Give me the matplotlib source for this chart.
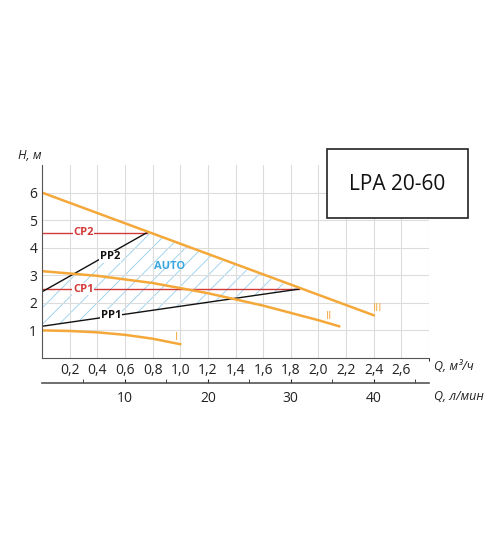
import matplotlib
matplotlib.use('Agg')
import matplotlib.pyplot as plt
import numpy as np
from matplotlib.patches import Polygon

plt.rcParams['font.family'] = ['Open Sans', 'DejaVu Sans']
plt.rcParams['hatch.linewidth'] = 0.6

ORANGE = '#f5a83a'
RED = '#d23a3a'
BLUE = '#3aa6dd'

# pump curves (Q m3/h, H m)
q3 = [0.0, 2.4]
h3 = [6.0, 1.55]
q2 = [0.0, 0.4, 0.8, 1.2, 1.6, 2.0, 2.15]
h2 = [3.15, 2.98, 2.72, 2.35, 1.9, 1.37, 1.15]
q1 = [0.0, 0.2, 0.4, 0.6, 0.8, 1.0]
h1 = [1.0, 0.98, 0.93, 0.84, 0.7, 0.5]
pp2_q = [0.0, 0.76]
pp2_h = [2.4, 4.55]
pp1_q = [0.0, 1.86]
pp1_h = [1.15, 2.5]
cp2_h = 4.55
cp1_h = 2.5

fig = plt.figure(figsize=(5, 5.38), dpi=100)
ax = fig.add_axes([0.084, 0.3346, 0.774, 0.3587])
ax.set_xlim(0, 2.8)
ax.set_ylim(0, 7)
ax.set_xticks(np.arange(0.2, 2.8, 0.2))
ax.set_xticklabels([f"{v:.1f}".replace('.', ',') for v in np.arange(0.2, 2.8, 0.2)])
ax.set_yticks([1, 2, 3, 4, 5, 6])
ax.set_xticks([2.8], minor=True)
ax.grid(True, which='both', color='#dcdcdc', lw=0.8)
ax.tick_params(length=0, labelsize=10, colors='#222222')
for s in ['top', 'right']:
    ax.spines[s].set_visible(False)
for s in ['left', 'bottom']:
    ax.spines[s].set_color('#555555')

# AUTO hatched region
poly = Polygon([(0, pp1_h[0]), (0, pp2_h[0]), (pp2_q[1], pp2_h[1]), (pp1_q[1], pp1_h[1])],
               closed=True, facecolor='none', edgecolor=BLUE, hatch='//', lw=0, alpha=0.55)
ax.add_patch(poly)

ax.plot([0, pp2_q[1]], [cp2_h, cp2_h], color=RED, lw=1)
ax.plot([0, pp1_q[1]], [cp1_h, cp1_h], color=RED, lw=1)
ax.plot(pp2_q, pp2_h, color='#111111', lw=1)
ax.plot(pp1_q, pp1_h, color='#111111', lw=1)
ax.plot(q3, h3, color=ORANGE, lw=1.8)
ax.plot(q2, h2, color=ORANGE, lw=1.8)
ax.plot(q1, h1, color=ORANGE, lw=1.8)

bb = dict(facecolor='white', edgecolor='none', pad=0.5)
ax.text(0.30, cp2_h, 'CP2', color=RED, fontsize=8, fontweight='bold', ha='center', va='center', bbox=bb)
ax.text(0.30, cp1_h, 'CP1', color=RED, fontsize=8, fontweight='bold', ha='center', va='center', bbox=bb)
ax.text(0.49, 3.67, 'PP2', color='#111111', fontsize=8, fontweight='bold', ha='center', va='center', bbox=bb)
ax.text(0.50, 1.54, 'PP1', color='#111111', fontsize=8, fontweight='bold', ha='center', va='center', bbox=bb)
ax.text(0.92, 3.32, 'AUTO', color=BLUE, fontsize=8, fontweight='bold', ha='center', va='center')
ax.text(0.97, 0.73, 'I', color=ORANGE, fontsize=8, ha='center', va='center')
ax.text(2.08, 1.49, 'II', color=ORANGE, fontsize=8, ha='center', va='center')
ax.text(2.43, 1.78, 'III', color=ORANGE, fontsize=8, ha='center', va='center')

fig.text(0.035, 0.705, 'Н, м', fontsize=9, style='italic', color='#222222')
fig.text(0.868, 0.312, 'Q, м³/ч', fontsize=9, style='italic', color='#222222')

# second axis l/min
ax2 = fig.add_axes([0.084, 1 - 383 / 538, 0.774, 0.0001])
ax2.set_xlim(0, 2.8 * 1000 / 60)
ax2.set_ylim(0, 1)
ax2.set_yticks([])
ax2.set_xticks(np.arange(5, 46, 5), minor=True)
ax2.set_xticks([10, 20, 30, 40])
ax2.tick_params(axis='x', which='both', direction='in', length=3, labelsize=10,
                colors='#222222', pad=6)
for s in ['top', 'right', 'left']:
    ax2.spines[s].set_visible(False)
ax2.spines['bottom'].set_color('#555555')
ax2.spines['bottom'].set_linewidth(1.2)
fig.text(0.868, 1 - 400 / 538, 'Q, л/мин', fontsize=9, style='italic', color='#222222')

# title box
fig.patches.append(matplotlib.patches.Rectangle((327 / 500, 1 - 218 / 538), 141 / 500, 69 / 538,
                                                transform=fig.transFigure, facecolor='white',
                                                edgecolor='#222222', lw=1.2))
fig.text(397 / 500, 1 - 184 / 538, 'LPA 20-60', fontsize=15, ha='center', va='center', color='#111111')

fig.savefig('out.png', dpi=100)
